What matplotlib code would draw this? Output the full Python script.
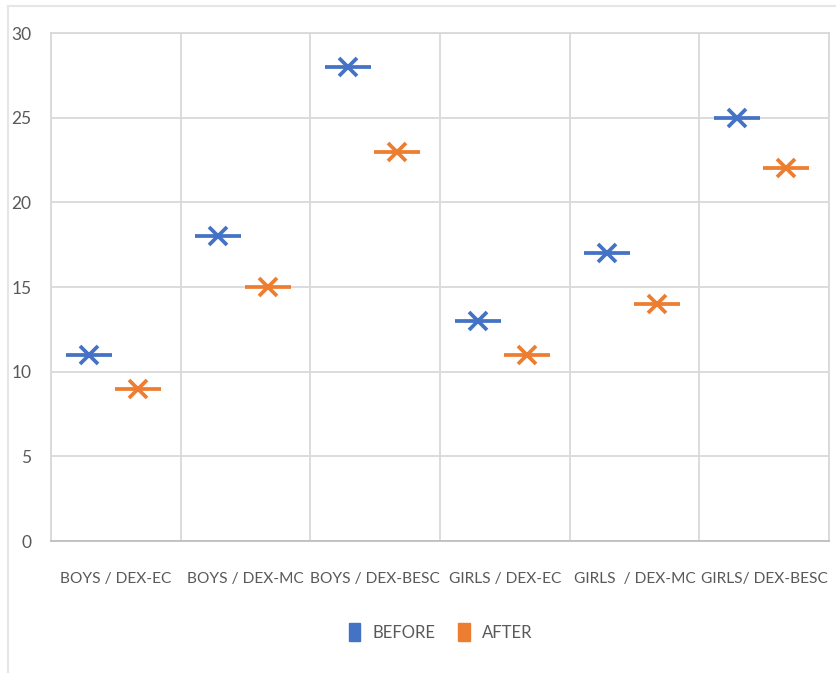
import matplotlib.pyplot as plt
from matplotlib.lines import Line2D
from matplotlib.patches import Patch
import numpy as np

plt.rcParams['font.family'] = ['Lato', 'DejaVu Sans']

# Группы и значения до/после
categories = ['BOYS / DEX-EC', 'BOYS / DEX-MC', 'BOYS / DEX-BESC',
              'GIRLS / DEX-EC', 'GIRLS  / DEX-MC', 'GIRLS/ DEX-BESC']
before = [11, 18, 28, 13, 17, 25]
after = [9, 15, 23, 11, 14, 22]
y_ticks = [0, 5, 10, 15, 20, 25, 30]

blue = '#4472C4'
orange = '#ED7D31'
grid_c = '#D9D9D9'
text_c = '#595959'

fig = plt.figure(figsize=(8.36, 6.73), dpi=100)
ax = fig.add_axes([51 / 836, 1 - 541 / 673, (829 - 51) / 836, (541 - 33) / 673])

x = np.arange(len(categories))
for vals, off, col in [(before, -0.21, blue), (after, 0.17, orange)]:
    # горизонтальная черта + крестик
    ax.plot(x + off, vals, ls='none', marker='_', ms=33, mew=2.7, color=col, zorder=3)
    ax.plot(x + off, vals, ls='none', marker='x', ms=13, mew=2.7, color=col, zorder=4)

ax.set_xlim(-0.5, len(categories) - 0.5)
ax.set_ylim(0, 30)
ax.set_yticks(y_ticks)
ax.set_xticks(x)
ax.set_xticklabels(categories, fontsize=11.2)
ax.set_xticks(np.arange(len(categories) + 1) - 0.5, minor=True)

ax.grid(axis='y', color=grid_c, lw=1.3)
ax.grid(axis='x', which='minor', color=grid_c, lw=1.3)
ax.set_axisbelow(True)
for s in ax.spines.values():
    s.set_color(grid_c)
    s.set_linewidth(1.3)
ax.spines['bottom'].set_color('#BFBFBF')

ax.tick_params(axis='both', which='both', length=0, colors=text_c)
ax.tick_params(axis='y', labelsize=12.5, pad=14)
ax.tick_params(axis='x', pad=22)

handles = [Patch(color=blue), Patch(color=orange)]
fig.legend(handles, ['BEFORE', 'AFTER'], loc='center', bbox_to_anchor=(0.527, 1 - 632 / 673),
           ncol=2, frameon=False, fontsize=12, labelcolor=text_c,
           handlelength=0.7, handleheight=1.2, handletextpad=0.7, columnspacing=1.4)

# рамка
fig.add_artist(Line2D([8 / 836, 8 / 836], [0, 1 - 6 / 673], color='#E6E6E6', lw=1.5))
fig.add_artist(Line2D([8 / 836, 1], [1 - 6 / 673, 1 - 6 / 673], color='#E6E6E6', lw=1.5))

fig.savefig('out.png', dpi=100)
